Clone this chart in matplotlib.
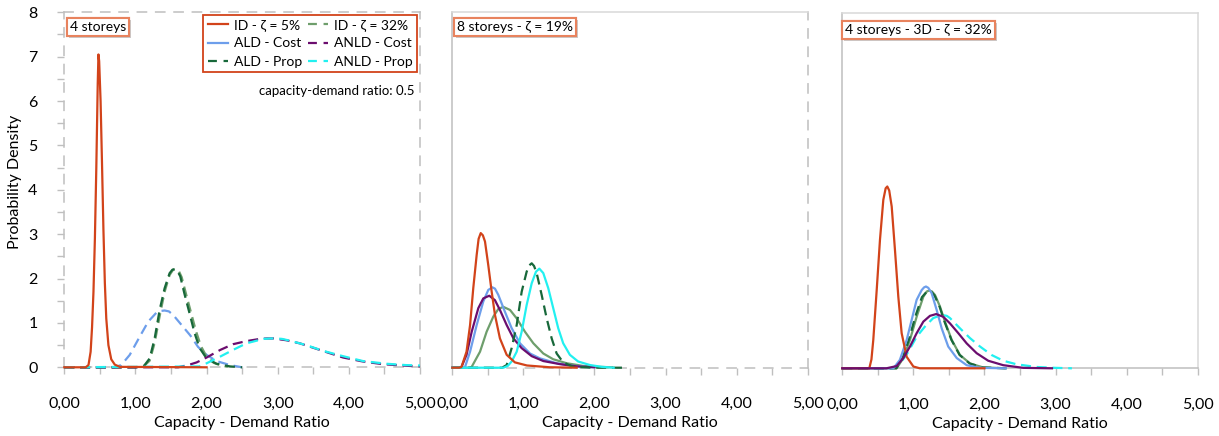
import matplotlib
matplotlib.use("Agg")
import matplotlib.pyplot as plt
import matplotlib.patheffects as pe
from matplotlib.lines import Line2D
from matplotlib.ticker import FixedLocator, FixedFormatter, MultipleLocator

plt.rcParams['font.family'] = ['Lato', 'DejaVu Sans']

# ---------------- data ----------------
series_names = ["ID - ζ = 5%", "ID - ζ = 32%", "ALD - Cost", "ANLD - Cost", "ALD - Prop", "ANLD - Prop"]
panel_titles = ["4 storeys", "8 storeys - ζ = 19%", "4 storeys - 3D - ζ = 32%"]
x_tick_values = [0, 1, 2, 3, 4, 5]
x_tick_labels = ["0,00", "1,00", "2,00", "3,00", "4,00", "5,00"]
y_tick_values = [0, 1, 2, 3, 4, 5, 6, 7, 8]
y_tick_labels = ["0", "1", "2", "3", "4", "5", "6", "7", "8"]
ratio_note = "capacity-demand ratio: 0.5"

# Panel 1: 4 storeys
p1_id5_x = [0, 0.30, 0.34, 0.37, 0.39, 0.41, 0.43, 0.45, 0.47, 0.48, 0.49, 0.51, 0.53, 0.55, 0.57, 0.59, 0.62, 0.66, 0.71, 0.78, 2.0]
p1_id5_y = [0, 0, 0.05, 0.35, 0.9, 1.7, 2.9, 4.5, 6.4, 7.05, 6.9, 6.0, 4.6, 3.1, 1.9, 1.1, 0.5, 0.18, 0.06, 0.01, 0]
p1_id32_x = [0, 1.0, 1.12, 1.2, 1.27, 1.34, 1.41, 1.48, 1.53, 1.57, 1.61, 1.65, 1.71, 1.78, 1.85, 1.92, 2.0, 2.1, 2.2, 2.3]
p1_id32_y = [0, 0, 0.03, 0.15, 0.55, 1.15, 1.7, 2.08, 2.2, 2.22, 2.17, 2.03, 1.66, 1.24, 0.82, 0.48, 0.24, 0.1, 0.04, 0.01]
p1_aldc_x = [0, 0.7, 0.8, 0.92, 1.06, 1.18, 1.3, 1.36, 1.41, 1.47, 1.53, 1.65, 1.77, 1.88, 2.0, 2.14, 2.33, 2.5]
p1_aldc_y = [0, 0, 0.05, 0.28, 0.69, 1.03, 1.24, 1.27, 1.28, 1.26, 1.18, 0.95, 0.72, 0.46, 0.28, 0.14, 0.05, 0.0]
p1_anldc_x = [0, 1.6, 1.74, 1.86, 2.0, 2.19, 2.37, 2.56, 2.75, 2.85, 2.94, 3.12, 3.31, 3.5, 3.69, 3.92, 4.2, 4.48, 4.86, 5.0]
p1_anldc_y = [0, 0, 0.05, 0.11, 0.22, 0.39, 0.52, 0.59, 0.64, 0.65, 0.65, 0.61, 0.54, 0.44, 0.34, 0.22, 0.13, 0.07, 0.03, 0.02]
p1_aldp_x = [0, 1.0, 1.12, 1.2, 1.27, 1.34, 1.41, 1.48, 1.52, 1.555, 1.59, 1.63, 1.69, 1.76, 1.83, 1.9, 2.0, 2.14, 2.33, 2.5]
p1_aldp_y = [0, 0, 0.03, 0.2, 0.65, 1.29, 1.78, 2.12, 2.2, 2.21, 2.17, 2.05, 1.65, 1.22, 0.78, 0.44, 0.2, 0.08, 0.02, 0]
p1_anldp_x = [0, 1.9, 2.0, 2.19, 2.37, 2.56, 2.8, 2.9, 2.98, 3.06, 3.17, 3.4, 3.64, 3.92, 4.2, 4.53, 4.8, 5.0]
p1_anldp_y = [0, 0.02, 0.09, 0.24, 0.39, 0.54, 0.64, 0.65, 0.65, 0.64, 0.6, 0.5, 0.37, 0.25, 0.14, 0.08, 0.05, 0.04]

# Panel 2: 8 storeys
p2_id5_x = [0, 0.1, 0.13, 0.2, 0.25, 0.295, 0.343, 0.37, 0.40, 0.43, 0.46, 0.506, 0.554, 0.6, 0.67, 0.765, 0.88, 1.05, 1.37, 1.75]
p2_id5_y = [0, 0, 0.02, 0.36, 0.96, 1.79, 2.54, 2.9, 3.03, 2.98, 2.84, 2.31, 1.71, 1.19, 0.66, 0.29, 0.12, 0.05, 0.01, 0]
p2_id32_x = [0, 0.24, 0.273, 0.39, 0.483, 0.577, 0.647, 0.717, 0.812, 0.906, 1.022, 1.14, 1.28, 1.42, 1.61, 1.84, 2.05, 2.24]
p2_id32_y = [0, 0, 0.02, 0.36, 0.81, 1.15, 1.32, 1.37, 1.3, 1.11, 0.81, 0.55, 0.32, 0.19, 0.1, 0.04, 0.02, 0.01]
p2_aldc_x = [0, 0.15, 0.18, 0.25, 0.343, 0.436, 0.506, 0.563, 0.6, 0.647, 0.74, 0.835, 0.952, 1.093, 1.233, 1.47, 1.75, 2.0]
p2_aldc_y = [0, 0, 0.02, 0.36, 0.96, 1.49, 1.75, 1.81, 1.78, 1.64, 1.26, 0.89, 0.55, 0.32, 0.21, 0.1, 0.03, 0.01]
p2_anldc_x = [0, 0.1, 0.13, 0.2, 0.273, 0.366, 0.436, 0.52, 0.6, 0.67, 0.765, 0.86, 0.976, 1.117, 1.28, 1.515, 1.75, 2.0]
p2_anldc_y = [0, 0, 0.02, 0.29, 0.81, 1.34, 1.56, 1.62, 1.52, 1.3, 0.96, 0.66, 0.44, 0.26, 0.15, 0.08, 0.03, 0.01]
p2_aldp_x = [0, 0.7, 0.765, 0.835, 0.906, 0.976, 1.046, 1.08, 1.117, 1.15, 1.187, 1.257, 1.328, 1.398, 1.468, 1.56, 1.7, 2.0, 2.4]
p2_aldp_y = [0, 0, 0.06, 0.44, 0.96, 1.71, 2.16, 2.3, 2.35, 2.29, 2.13, 1.64, 1.11, 0.66, 0.32, 0.12, 0.02, 0, 0]
p2_anldp_x = [0, 0.72, 0.78, 0.835, 0.906, 0.976, 1.046, 1.117, 1.177, 1.224, 1.28, 1.35, 1.42, 1.49, 1.56, 1.654, 1.77, 1.937, 2.1, 2.27]
p2_anldp_y = [0, 0, 0.04, 0.14, 0.36, 0.81, 1.41, 1.9, 2.16, 2.23, 2.13, 1.79, 1.34, 0.89, 0.55, 0.29, 0.14, 0.06, 0.02, 0.0]

# Panel 3: 4 storeys - 3D
p3_id5_x = [0, 0.38, 0.41, 0.436, 0.484, 0.53, 0.577, 0.61, 0.633, 0.66, 0.695, 0.741, 0.788, 0.835, 0.905, 1.0, 1.09, 2.0]
p3_id5_y = [0, 0, 0.2, 0.64, 1.76, 2.89, 3.79, 4.05, 4.09, 4.0, 3.64, 2.66, 1.61, 0.79, 0.26, 0.04, 0, 0]
p3_id32_x = [0, 0.765, 0.858, 0.952, 1.046, 1.14, 1.19, 1.224, 1.26, 1.304, 1.374, 1.444, 1.539, 1.655, 1.796, 1.98, 2.3]
p3_id32_y = [0, 0, 0.23, 0.64, 1.16, 1.61, 1.73, 1.75, 1.73, 1.65, 1.39, 1.05, 0.64, 0.3, 0.11, 0.02, 0]
p3_aldc_x = [0, 0.72, 0.81, 0.906, 0.976, 1.046, 1.117, 1.15, 1.177, 1.21, 1.257, 1.328, 1.398, 1.49, 1.61, 1.75, 1.937, 2.3]
p3_aldc_y = [0, 0, 0.19, 0.64, 1.09, 1.54, 1.76, 1.82, 1.84, 1.81, 1.69, 1.31, 0.9, 0.49, 0.23, 0.07, 0.01, 0]
p3_anldc_x = [0, 0.62, 0.765, 0.858, 0.952, 1.046, 1.14, 1.233, 1.32, 1.42, 1.515, 1.632, 1.75, 1.89, 2.053, 2.264, 2.546, 2.95]
p3_anldc_y = [0, 0, 0.05, 0.23, 0.49, 0.79, 1.05, 1.18, 1.22, 1.16, 1.01, 0.79, 0.56, 0.34, 0.17, 0.07, 0.01, 0]
p3_aldp_x = [0, 0.76, 0.85, 0.94, 1.03, 1.12, 1.18, 1.22, 1.26, 1.30, 1.37, 1.44, 1.535, 1.65, 1.79, 1.97, 2.3]
p3_aldp_y = [0, 0, 0.24, 0.66, 1.18, 1.6, 1.71, 1.73, 1.71, 1.63, 1.38, 1.04, 0.64, 0.3, 0.11, 0.02, 0]
p3_anldp_x = [0, 0.7, 0.8, 0.9, 0.928, 1.046, 1.163, 1.28, 1.398, 1.47, 1.515, 1.655, 1.796, 1.937, 2.1, 2.264, 2.452, 2.73, 3.0, 3.23]
p3_anldp_y = [0, 0, 0.08, 0.3, 0.37, 0.71, 0.94, 1.13, 1.2, 1.18, 1.13, 0.9, 0.68, 0.49, 0.3, 0.17, 0.09, 0.03, 0.01, 0]

# ---------------- styles ----------------
C_RED = '#D2431A'
C_LGREEN = '#6E9E6C'
C_BLUE = '#6D9EEB'
C_PURPLE = '#6B0D6E'
C_DGREEN = '#17683A'
C_CYAN = '#22F0F0'
GRID = '#BFBFBF'
DASH = (0, (4.5, 2.6))
LW = 1.6

W, H = 1219, 436
fig = plt.figure(figsize=(W / 100, H / 100), dpi=100)


def axrect(x0, x1, ytop, ybot):
    return [x0 / W, 1 - ybot / H, (x1 - x0) / W, (ybot - ytop) / H]


ax1 = fig.add_axes(axrect(64.3, 420.0, 12.3, 367.3))
ax2 = fig.add_axes(axrect(452.3, 807.7, 12.3, 367.7))
ax3 = fig.add_axes(axrect(842.3, 1197.7, 12.7, 368.3))


def base_axes(ax):
    ax.set_xlim(0, 5)
    ax.set_ylim(0, 8)
    ax.xaxis.set_major_locator(FixedLocator(x_tick_values))
    ax.xaxis.set_major_formatter(FixedFormatter(x_tick_labels))
    ax.xaxis.set_minor_locator(MultipleLocator(0.5))
    ax.tick_params(axis='x', which='both', direction='out', length=5.2, width=1.0,
                   color=GRID, labelsize=11.5, pad=16, labelcolor='black')
    for s in ax.spines.values():
        s.set_color(GRID)
        s.set_linewidth(1.1)
    ax.set_facecolor('none')


for ax in (ax1, ax2, ax3):
    base_axes(ax)

# panel 1: dashed frame, y ticks
for s in ax1.spines.values():
    s.set_linestyle((0, (6, 6)))
ax1.yaxis.set_major_locator(FixedLocator(y_tick_values))
ax1.yaxis.set_major_formatter(FixedFormatter(y_tick_labels))
ax1.yaxis.set_minor_locator(MultipleLocator(0.5))
ax1.tick_params(axis='y', which='both', direction='out', length=5.2, width=1.0,
                color=GRID, labelsize=11.5, pad=14)

# panel 2: solid left/top, dashed right/bottom
ax2.spines['right'].set_linestyle((0, (6, 6)))
ax2.spines['bottom'].set_linestyle((0, (6, 6)))
ax2.spines['top'].set_color('#D9D9D9')
ax2.tick_params(axis='y', which='both', left=False, labelleft=False)

# panel 3: solid frame
ax3.spines['top'].set_color('#D9D9D9')
ax3.spines['right'].set_color('#D9D9D9')
ax3.tick_params(axis='y', which='both', left=False, labelleft=False)


def draw(ax, x, y, color, ls='-', z=3):
    ax.plot(x, y, color=color, lw=LW, linestyle=ls, clip_on=False, zorder=z,
            solid_joinstyle='round', dash_capstyle='butt')


# Panel 1 curves (red solid, others dashed)
draw(ax1, p1_aldc_x, p1_aldc_y, C_BLUE, DASH)
draw(ax1, p1_id32_x, p1_id32_y, C_LGREEN, DASH)
draw(ax1, p1_aldp_x, p1_aldp_y, C_DGREEN, DASH)
draw(ax1, p1_anldc_x, p1_anldc_y, C_PURPLE, DASH)
draw(ax1, p1_anldp_x, p1_anldp_y, C_CYAN, DASH)
draw(ax1, p1_id5_x, p1_id5_y, C_RED, '-', z=4)

# Panel 2 curves
draw(ax2, p2_id32_x, p2_id32_y, C_LGREEN)
draw(ax2, p2_aldc_x, p2_aldc_y, C_BLUE)
draw(ax2, p2_anldc_x, p2_anldc_y, C_PURPLE)
draw(ax2, p2_aldp_x, p2_aldp_y, C_DGREEN, DASH)
draw(ax2, p2_anldp_x, p2_anldp_y, C_CYAN)
draw(ax2, p2_id5_x, p2_id5_y, C_RED)

# Panel 3 curves
draw(ax3, p3_anldp_x, p3_anldp_y, C_CYAN, DASH)
draw(ax3, p3_id32_x, p3_id32_y, C_LGREEN)
draw(ax3, p3_aldp_x, p3_aldp_y, C_DGREEN, DASH)
draw(ax3, p3_aldc_x, p3_aldc_y, C_BLUE)
draw(ax3, p3_id5_x, p3_id5_y, C_RED)
draw(ax3, p3_anldc_x, p3_anldc_y, C_PURPLE)

# axis labels
for ax in (ax1, ax2, ax3):
    ax.text(0.5, -0.157, "Capacity - Demand Ratio", transform=ax.transAxes,
            ha='center', va='center', fontsize=11.5)
fig.text(15 / W, 1 - 182 / H, "Probability Density", rotation=90,
         ha='center', va='center', fontsize=11.5)

# panel title boxes
title_pos = [(ax1, 0.016, 0.958), (ax2, 0.013, 0.958), (ax3, 0.008, 0.951)]
for (ax, tx, ty), title in zip(title_pos, panel_titles):
    t = ax.text(tx, ty, title, transform=ax.transAxes, ha='left', va='center',
                fontsize=10, zorder=6,
                bbox=dict(boxstyle='square,pad=0.22', fc='white', ec='#E8835E', lw=1.5))
    t.get_bbox_patch().set_path_effects([pe.withSimplePatchShadow(offset=(1.5, -1.5),
                                                                   shadow_rgbFace='#999999',
                                                                   alpha=0.5), pe.Normal()])

# legend (panel 1)
handles = [
    Line2D([], [], color=C_RED, lw=LW),
    Line2D([], [], color=C_BLUE, lw=LW),
    Line2D([], [], color=C_DGREEN, lw=LW, linestyle=(0, (4, 3))),
    Line2D([], [], color=C_LGREEN, lw=LW, linestyle=(0, (4, 3))),
    Line2D([], [], color=C_PURPLE, lw=LW, linestyle=(0, (4, 3))),
    Line2D([], [], color=C_CYAN, lw=LW, linestyle=(0, (4, 3))),
]
labels = [series_names[0], series_names[2], series_names[4],
          series_names[1], series_names[3], series_names[5]]
leg = ax1.legend(handles, labels, ncol=2, loc='upper right',
                 bbox_to_anchor=(417 / W, 1 - 15 / H), bbox_transform=fig.transFigure,
                 fontsize=10, handlelength=1.45, handletextpad=0.45, columnspacing=0.4,
                 borderpad=0.3, labelspacing=0.45, fancybox=False, framealpha=1,
                 borderaxespad=0)
leg.get_frame().set_edgecolor(C_RED)
leg.get_frame().set_linewidth(1.3)
leg.set_zorder(7)

ax1.text(0.985, 0.778, ratio_note, transform=ax1.transAxes, ha='right', va='center',
         fontsize=9.5)

fig.savefig("out.png", dpi=100)
